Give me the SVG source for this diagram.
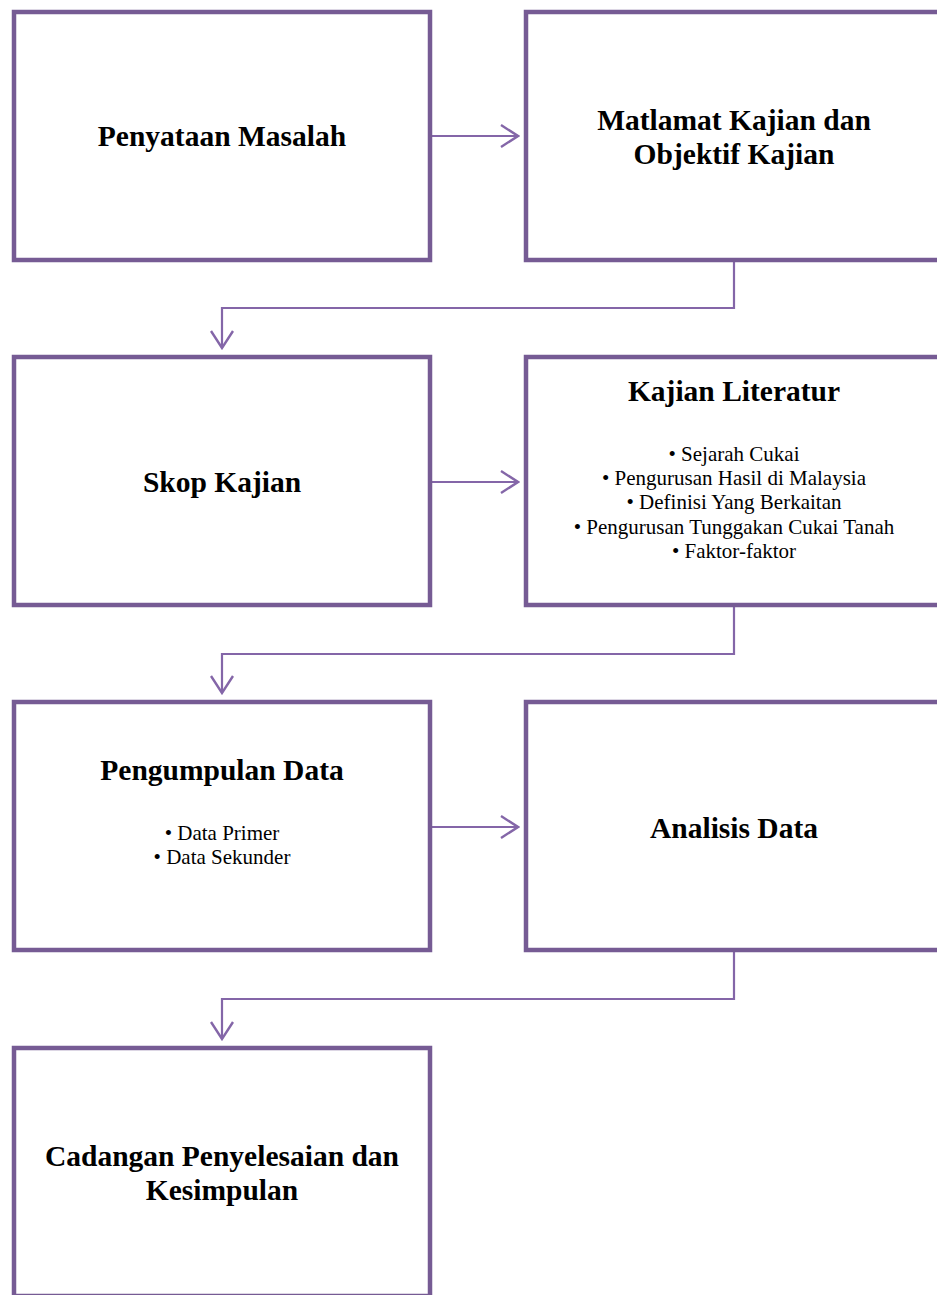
<svg xmlns="http://www.w3.org/2000/svg" width="937" height="1295" viewBox="0 0 937 1295">
<style>
.box{fill:#fff;stroke:#765B94;stroke-width:4.5}
.t{font-family:"Liberation Serif",serif;font-weight:bold;font-size:29.5px;fill:#000;text-anchor:middle}
.b{font-family:"Liberation Serif",serif;font-size:21px;fill:#000;text-anchor:middle}
.c{fill:none;stroke:#8466A8;stroke-width:2.2}
</style>
<defs>
<marker id="ah" viewBox="0 0 20 24" refX="18" refY="12" markerWidth="20" markerHeight="24" markerUnits="userSpaceOnUse" orient="auto">
<path d="M1,1 L18,12 L1,23" fill="none" stroke="#8466A8" stroke-width="2.4"/>
</marker>
</defs>
<rect width="937" height="1295" fill="#fff"/>
<g id="connectors">
<path class="c" d="M432,136 H518" marker-end="url(#ah)"/>
<path class="c" d="M734,262 V308 H222 V348" marker-end="url(#ah)"/>
<path class="c" d="M432,482 H518" marker-end="url(#ah)"/>
<path class="c" d="M734,607 V654 H222 V693" marker-end="url(#ah)"/>
<path class="c" d="M432,827 H518" marker-end="url(#ah)"/>
<path class="c" d="M734,952 V999 H222 V1039" marker-end="url(#ah)"/>
</g>
<g id="n1"><rect class="box" x="14" y="12" width="416" height="248"/>
<text class="t" x="222" y="146">Penyataan Masalah</text></g>
<g id="n2"><rect class="box" x="526" y="12" width="416" height="248"/>
<text class="t" x="734" y="130">Matlamat Kajian dan</text>
<text class="t" x="734" y="164">Objektif Kajian</text></g>
<g id="n3"><rect class="box" x="14" y="357" width="416" height="248"/>
<text class="t" x="222" y="492">Skop Kajian</text></g>
<g id="n4"><rect class="box" x="526" y="357" width="416" height="248"/>
<text class="t" x="734" y="401">Kajian Literatur</text>
<text class="b" x="734" y="461">• Sejarah Cukai</text>
<text class="b" x="734" y="485">• Pengurusan Hasil di Malaysia</text>
<text class="b" x="734" y="509">• Definisi Yang Berkaitan</text>
<text class="b" x="734" y="534">• Pengurusan Tunggakan Cukai Tanah</text>
<text class="b" x="734" y="558">• Faktor-faktor</text></g>
<g id="n5"><rect class="box" x="14" y="702" width="416" height="248"/>
<text class="t" x="222" y="780">Pengumpulan Data</text>
<text class="b" x="222" y="840">• Data Primer</text>
<text class="b" x="222" y="864">• Data Sekunder</text></g>
<g id="n6"><rect class="box" x="526" y="702" width="416" height="248"/>
<text class="t" x="734" y="838">Analisis Data</text></g>
<g id="n7"><rect class="box" x="14" y="1048" width="416" height="248"/>
<text class="t" x="222" y="1166">Cadangan Penyelesaian dan</text>
<text class="t" x="222" y="1200">Kesimpulan</text></g>
</svg>
